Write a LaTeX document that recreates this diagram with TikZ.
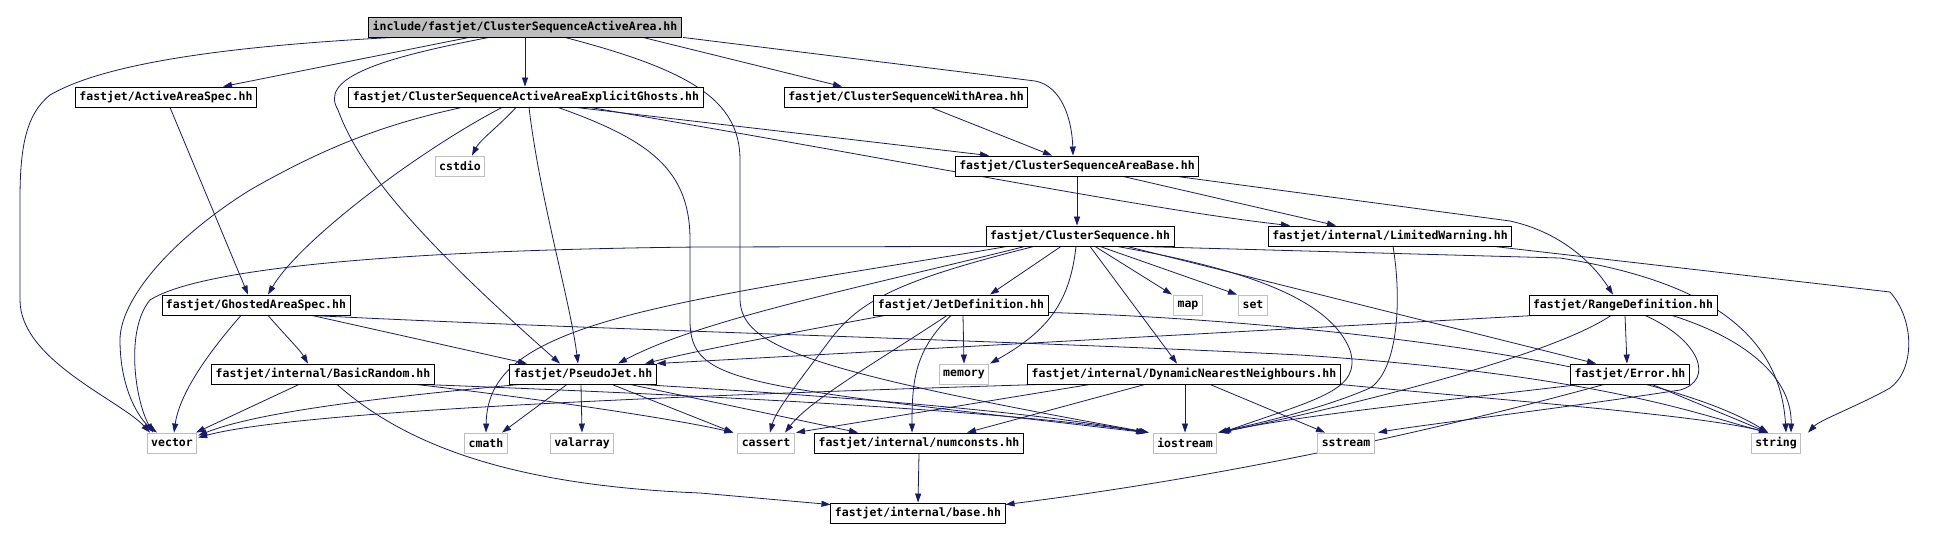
\documentclass[tikz,border=0pt]{standalone}
\usepackage{fontspec}
\newfontfamily\incfont{DejaVu Sans Mono}
\usetikzlibrary{arrows.meta,calc,backgrounds}
\definecolor{depblue}{HTML}{191970}
\definecolor{sysgray}{HTML}{BFBFBF}
\tikzset{
  file/.style={draw=black,fill=white,line width=0.9pt,minimum height=20pt,inner xsep=4pt,inner ysep=0pt,
    font=\incfont\bfseries\fontsize{11.5}{12}\selectfont},
  sysfile/.style={file,draw=sysgray},
  dep/.style={draw=depblue,line width=0.8pt,-{Triangle[length=9pt,width=6pt]}}
}

\begin{document}
\begin{tikzpicture}[x=1pt,y=-1pt]
    \useasboundingbox (0,0) rectangle (1945,540);
    % headers of the project
    \node[file,fill=sysgray] (root) at (525,27) {include/fastjet/ClusterSequenceActiveArea.hh};
    \node[file] (aas) at (166,97) {fastjet/ActiveAreaSpec.hh};
    \node[file] (eg) at (526,97) {fastjet/ClusterSequenceActiveAreaExplicitGhosts.hh};
    \node[file] (cswa) at (906,97) {fastjet/ClusterSequenceWithArea.hh};
    \node[file] (csab) at (1077,166) {fastjet/ClusterSequenceAreaBase.hh};
    \node[file] (cs) at (1080,236) {fastjet/ClusterSequence.hh};
    \node[file] (lw) at (1390,236) {fastjet/internal/LimitedWarning.hh};
    \node[file] (gas) at (256,305) {fastjet/GhostedAreaSpec.hh};
    \node[file] (jd) at (961,305) {fastjet/JetDefinition.hh};
    \node[file] (rd) at (1623,305) {fastjet/RangeDefinition.hh};
    \node[file] (br) at (323,374) {fastjet/internal/BasicRandom.hh};
    \node[file] (pj) at (583,374) {fastjet/PseudoJet.hh};
    \node[file] (dnn) at (1184,374) {fastjet/internal/DynamicNearestNeighbours.hh};
    \node[file] (err) at (1630,374) {fastjet/Error.hh};
    \node[file] (numc) at (919,443) {fastjet/internal/numconsts.hh};
    \node[file] (base) at (918,513) {fastjet/internal/base.hh};
    % system headers
    \node[sysfile] (cstdio) at (460,166) {cstdio};
    \node[sysfile] (map) at (1188,305) {map};
    \node[sysfile] (setn) at (1253,305) {set};
    \node[sysfile] (memory) at (964,374) {memory};
    \node[sysfile] (vec) at (172,443) {vector};
    \node[sysfile] (cmath) at (486,443) {cmath};
    \node[sysfile] (valarr) at (582,443) {valarray};
    \node[sysfile] (cassert) at (766,443) {cassert};
    \node[sysfile] (iostr) at (1185,443) {iostream};
    \node[sysfile] (sstr) at (1346,443) {sstream};
    \node[sysfile] (str) at (1776,443) {string};

    \begin{scope}[on background layer]
    % from the root
    \draw[dep] ($(root.south)+(-56,0)$) -- ($(aas.north)+(57,0)$);
    \draw[dep] (root.south) -- (root.south |- eg.north);
    \draw[dep] ($(root.south)+(118,0)$) -- ($(cswa.north)+(-64,0)$);
    \draw[dep] ($(root.south)+(158,0)$) -- (1035,81) .. controls (1062,86) and (1072,120) .. ($(csab.north)+(-4,0)$);
    \draw[dep] ($(root.south)+(-132,0)$) .. controls (250,45) and (110,60) .. (50,95)
      .. controls (25,115) and (20,150) .. (20,200) -- (20,300)
      .. controls (20,360) and (120,400) .. ($(vec.north)+(-22,0)$);
    \draw[dep] ($(root.south)+(-36,0)$) .. controls (370,60) and (320,80) .. (338,110)
      .. controls (360,170) and (420,240) .. ($(pj.north)+(-23,0)$);
    \draw[dep] ($(root.south)+(40,0)$) .. controls (690,70) and (740,100) .. (740,160) -- (740,300)
      .. controls (742,345) and (800,370) .. ($(iostr.north)+(-36,0)$);
    % ActiveAreaSpec
    \draw[dep] ($(aas.south)+(4,0)$) -- ($(gas.north)+(-8,0)$);
    % ClusterSequenceActiveAreaExplicitGhosts
    \draw[dep] ($(eg.south)+(-64,0)$) .. controls (380,125) and (320,150) .. (250,190)
      .. controls (170,240) and (120,300) .. (120,340) .. controls (120,390) and (140,420) .. ($(vec.north)+(-15,0)$);
    \draw[dep] ($(eg.south)+(-24,0)$) .. controls (420,150) and (300,240) .. ($(gas.north)+(12,0)$);
    \draw[dep] ($(eg.south)+(-10,0)$) .. controls (500,125) and (480,140) .. ($(cstdio.north)+(12,0)$);
    \draw[dep] ($(eg.south)+(3,0)$) .. controls (540,200) and (570,300) .. ($(pj.north)+(-5,0)$);
    \draw[dep] ($(eg.south)+(50,0)$) -- ($(csab.north)+(-88,0)$);
    \draw[dep] ($(eg.south)+(64,0)$) .. controls (900,160) and (1150,210) .. ($(lw.north)+(-100,0)$);
    \draw[dep] ($(eg.south)+(32,0)$) .. controls (650,140) and (690,170) .. (690,240) -- (690,320)
      .. controls (690,385) and (740,385) .. ($(iostr.north)+(-39,0)$);
    % ClusterSequenceWithArea
    \draw[dep] ($(cswa.south)+(25,0)$) -- ($(csab.north)+(-25,0)$);
    % ClusterSequenceAreaBase
    \draw[dep] (csab.south) -- (csab.south |- cs.north);
    \draw[dep] ($(csab.south)+(46,0)$) -- ($(lw.north)+(-54,0)$);
    \draw[dep] ($(csab.south)+(100,0)$) -- (1510,221) .. controls (1560,232) and (1592,262) .. ($(rd.north)+(-10,0)$);
    % LimitedWarning
    \draw[dep] ($(lw.south)+(3,0)$) .. controls (1402,300) and (1398,370) .. (1370,388)
      .. controls (1320,410) and (1250,425) .. ($(iostr.north)+(33,0)$);
    \draw[dep] ($(lw.south)+(104,0)$) -- (1890,292) .. controls (1915,320) and (1915,370) .. (1890,388)
      .. controls (1860,405) and (1820,420) .. ($(str.north)+(32,0)$);
    % ClusterSequence
    \draw[dep] ($(cs.south)+(-90,0)$) -- (700,247) .. controls (400,250) and (200,268) .. (150,300)
      .. controls (125,330) and (135,400) .. ($(vec.north)+(-19,0)$);
    \draw[dep] ($(cs.south)+(-73,0)$) .. controls (900,265) and (760,285) .. (663,307)
      .. controls (530,337) and (487,370) .. (cmath.north);
    \draw[dep] ($(cs.south)+(-55,0)$) .. controls (850,290) and (700,320) .. ($(pj.north)+(35,0)$);
    \draw[dep] ($(cs.south)+(-46,0)$) .. controls (900,280) and (860,300) .. (830,340)
      .. controls (800,380) and (776,410) .. ($(cassert.north)+(4,0)$);
    \draw[dep] ($(cs.south)+(-19,0)$) -- ($(jd.north)+(29,0)$);
    \draw[dep] ($(cs.south)+(-4,0)$) .. controls (1070,300) and (1050,330) .. ($(memory.north)+(26,0)$);
    \draw[dep] ($(cs.south)+(10,0)$) -- ($(dnn.north)+(-7,0)$);
    \draw[dep] ($(cs.south)+(15,0)$) -- ($(map.north)+(-16,0)$);
    \draw[dep] ($(cs.south)+(20,0)$) -- ($(setn.north)+(-16,0)$);
    \draw[dep] ($(cs.south)+(37,0)$) .. controls (1250,270) and (1330,300) .. (1350,350)
      .. controls (1362,390) and (1320,398) .. ($(iostr.north)+(37,0)$);
    \draw[dep] ($(cs.south)+(47,0)$) -- ($(err.north)+(-34,0)$);
    \draw[dep] ($(cs.south)+(60,0)$) -- (1560,258) .. controls (1700,280) and (1780,330) .. ($(str.north)+(10,0)$);
    % GhostedAreaSpec
    \draw[dep] ($(gas.south)+(-15,0)$) .. controls (215,345) and (180,390) .. ($(vec.north)+(2,0)$);
    \draw[dep] ($(gas.south)+(12,0)$) .. controls (285,335) and (300,350) .. ($(br.north)+(-15,0)$);
    \draw[dep] ($(gas.south)+(56,0)$) -- ($(pj.north)+(-56,0)$);
    \draw[dep] ($(gas.south)+(56,0)$) .. controls (600,330) and (1000,340) .. (1300,355)
      .. controls (1600,375) and (1700,415) .. ($(str.north)+(-8,0)$);
    % BasicRandom
    \draw[dep] ($(br.south)+(-24,0)$) -- ($(vec.north)+(24,0)$);
    \draw[dep] ($(br.south)+(14,0)$) .. controls (400,440) and (500,485) .. (700,493) -- ($(base.north west)+(0,2)$);
    \draw[dep] ($(br.south)+(93,0)$) .. controls (550,400) and (680,420) .. ($(cassert.north west)+(-4,0)$);
    \draw[dep] ($(br.south)+(100,0)$) .. controls (700,395) and (1000,410) .. ($(iostr.north)+(-37,0)$);
    % PseudoJet
    \draw[dep] ($(pj.south)+(-63,0)$) .. controls (350,400) and (250,415) .. ($(vec.north east)+(1,3)$);
    \draw[dep] ($(pj.south)+(-16,0)$) -- ($(cmath.north)+(16,0)$);
    \draw[dep] ($(pj.south)+(-2,0)$) -- (valarr.north);
    \draw[dep] ($(pj.south)+(29,0)$) -- ($(cassert.north west)+(-4,0)$);
    \draw[dep] ($(pj.south)+(47,0)$) -- ($(numc.north)+(-61,0)$);
    \draw[dep] ($(pj.south)+(57,0)$) .. controls (900,400) and (1050,415) .. ($(iostr.north)+(-40,0)$);
    % JetDefinition
    \draw[dep] ($(jd.south)+(-76,0)$) .. controls (780,335) and (700,350) .. ($(pj.north)+(62,0)$);
    \draw[dep] ($(jd.south)+(-14,0)$) .. controls (880,360) and (810,400) .. ($(cassert.north)+(19,0)$);
    \draw[dep] ($(jd.south)+(-10,0)$) .. controls (915,350) and (912,380) .. ($(numc.north)+(-7,0)$);
    \draw[dep] ($(jd.south)+(2,0)$) -- (memory.north);
    \draw[dep] ($(jd.south east)+(0,-3)$) .. controls (1300,320) and (1650,360) .. ($(str.north)+(-8,0)$);
    % RangeDefinition
    \draw[dep] ($(rd.south)+(-88,0)$) -- (pj.north east);
    \draw[dep] ($(rd.south)+(2,0)$) -- ($(err.north)+(-3,0)$);
    \draw[dep] ($(rd.south)+(-12,0)$) .. controls (1560,350) and (1400,395) .. ($(iostr.north)+(35,0)$);
    \draw[dep] ($(rd.south)+(22,0)$) .. controls (1700,340) and (1715,380) .. (1680,390)
      .. controls (1550,410) and (1420,425) .. ($(sstr.north)+(32,0)$);
    \draw[dep] ($(rd.south)+(49,0)$) .. controls (1750,340) and (1792,380) .. ($(str.north)+(15,0)$);
    % DynamicNearestNeighbours
    \draw[dep] ($(dnn.south)+(-144,0)$) .. controls (700,395) and (300,410) .. ($(vec.north east)+(1,5)$);
    \draw[dep] ($(dnn.south)+(-94,0)$) -- ($(cassert.north)+(30,0)$);
    \draw[dep] ($(dnn.south)+(-39,0)$) -- ($(numc.north)+(48,0)$);
    \draw[dep] ($(dnn.south)+(1,0)$) -- (iostr.north);
    \draw[dep] ($(dnn.south)+(26,0)$) -- ($(sstr.north)+(-21,0)$);
    \draw[dep] ($(dnn.south)+(156,0)$) .. controls (1500,400) and (1700,415) .. ($(str.north)+(-8,0)$);
    % Error
    \draw[dep] ($(err.south)+(-50,0)$) .. controls (1450,400) and (1300,415) .. ($(iostr.north)+(35,0)$);
    \draw[dep] ($(err.south)+(22,0)$) -- ($(str.north)+(-8,0)$);
    \draw[dep] ($(err.south)+(-26,0)$) .. controls (1400,440) and (1200,480) .. ($(base.north east)+(0,2)$);
    % numconsts
    \draw[dep] (numc.south) -- (base.north);
    \end{scope}
\end{tikzpicture}
\end{document}
